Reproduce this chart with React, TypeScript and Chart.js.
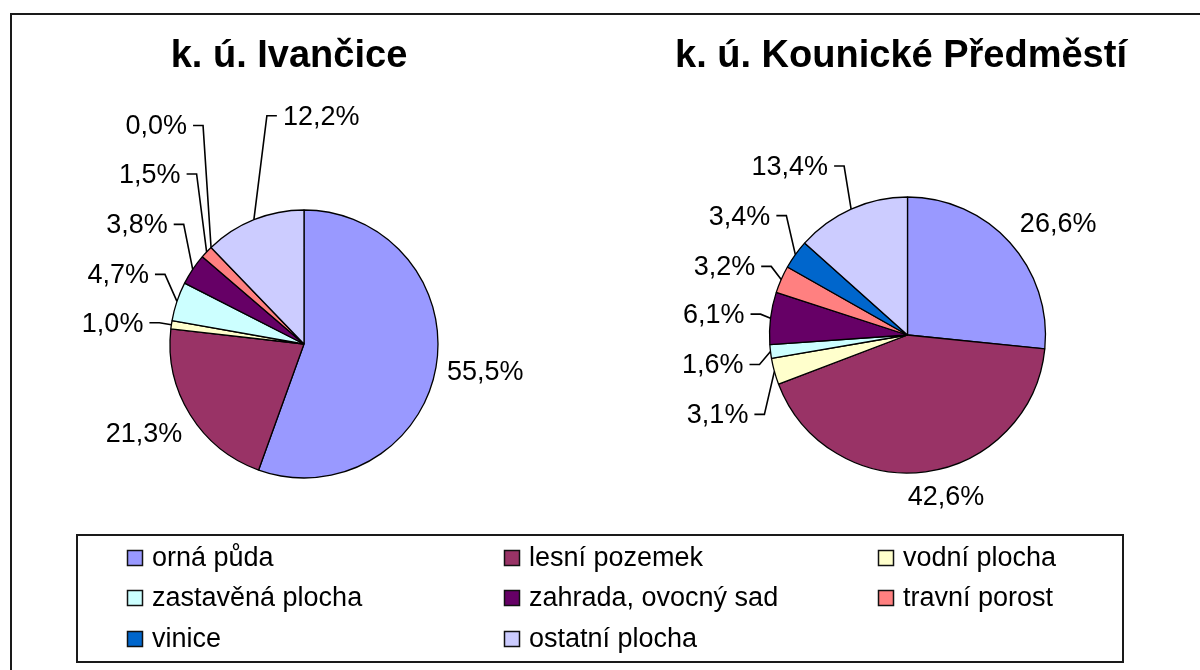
import React, { useEffect, useRef } from "react";
import { Chart, registerables } from "chart.js";

Chart.register(...registerables);

// ---------- data ----------
const categories = [
  "orná půda",
  "lesní pozemek",
  "vodní plocha",
  "zastavěná plocha",
  "zahrada, ovocný sad",
  "travní porost",
  "vinice",
  "ostatní plocha",
];
const ivanciceValues = [55.5, 21.3, 1.0, 4.7, 3.8, 1.5, 0.0, 12.2];
const kounickeValues = [26.6, 42.6, 3.1, 1.6, 6.1, 3.2, 3.4, 13.4];
const chartTitles = ["k. ú. Ivančice", "k. ú. Kounické Předměstí"];

// ---------- styles / layout ----------
const sliceColors = ["#9999FF", "#993366", "#FFFFCC", "#CCFFFF", "#660066", "#FF8080", "#0066CC", "#CCCCFF"];
const FONT = '"Liberation Sans", Arial, sans-serif';

// label placement relative to the slice's outer mid-point: [dx to text edge, dy to baseline, align, leader]
type LabelPos = [number, number, "left" | "right", boolean];
const ivanciceLabelLayout: LabelPos[] = [
  [11, 13, "left", false],
  [-8, 27, "right", false],
  [-28, 7, "right", true],
  [-28, -18, "right", true],
  [-25, -36, "right", true],
  [-26, -69, "right", true],
  [-24, -113, "right", true],
  [29, -95, "left", true],
];
const kounickeLabelLayout: LabelPos[] = [
  [10, -10, "left", false],
  [-18, 33, "left", false],
  [-26, 52, "right", true],
  [-27, 22, "right", true],
  [-26, 5, "right", true],
  [-26, -4, "right", true],
  [-25, -30, "right", true],
  [-23, -34, "right", true],
];

const fmt = (v: number) => v.toFixed(1).replace(".", ",") + "%";

function makePie(
  canvas: HTMLCanvasElement,
  values: number[],
  layout: LabelPos[],
  title: string,
  titleX: number,
  padding: { left: number; right: number; top: number; bottom: number },
  radius: number,
  withDecor: boolean
) {
  const labelPlugin = {
    id: "sliceLabels",
    afterDatasetsDraw(chart: any) {
      const ctx = chart.ctx as CanvasRenderingContext2D;
      const meta = chart.getDatasetMeta(0);
      ctx.save();
      ctx.font = `27px ${FONT}`;
      ctx.fillStyle = "#000";
      ctx.strokeStyle = "#000";
      ctx.lineWidth = 1.6;
      ctx.textBaseline = "alphabetic";
      meta.data.forEach((arc: any, i: number) => {
        const p = arc.getProps(["x", "y", "startAngle", "endAngle", "outerRadius"], true);
        const mid = (p.startAngle + p.endAngle) / 2;
        const ax = p.x + Math.cos(mid) * p.outerRadius;
        const ay = p.y + Math.sin(mid) * p.outerRadius;
        const [dx, dy, align, leader] = layout[i];
        const ex = ax + dx;
        const by = ay + dy;
        ctx.textAlign = align;
        ctx.fillText(fmt(values[i]), ex, by);
        if (leader) {
          const ly = by - 9;
          const s = align === "right" ? 1 : -1;
          const x0 = ex + s * 6;
          const x1 = ex + s * 16;
          ctx.beginPath();
          ctx.moveTo(x0, ly);
          ctx.lineTo(x1, ly);
          ctx.lineTo(ax, ay);
          ctx.stroke();
        }
      });
      ctx.restore();
    },
    afterDraw(chart: any) {
      const ctx = chart.ctx as CanvasRenderingContext2D;
      ctx.save();
      ctx.font = `bold 38px ${FONT}`;
      ctx.fillStyle = "#000";
      ctx.textAlign = "center";
      ctx.textBaseline = "alphabetic";
      ctx.fillText(title, titleX, 67);
      ctx.restore();
    },
  };

  const decorPlugin = {
    id: "decor",
    beforeDraw(chart: any) {
      const ctx = chart.ctx as CanvasRenderingContext2D;
      ctx.save();
      ctx.fillStyle = "#fff";
      ctx.fillRect(0, 0, chart.width, chart.height);
      // outer frame
      ctx.strokeStyle = "#1a1a1a";
      ctx.lineWidth = 2;
      ctx.beginPath();
      ctx.moveTo(11, 700);
      ctx.lineTo(11, 14);
      ctx.lineTo(1210, 14);
      ctx.stroke();
      // legend box
      ctx.strokeRect(77, 535, 1046, 127);
      // legend items
      const colX = [127, 504, 878];
      const rowBase = [566, 606, 647];
      ctx.font = `27px ${FONT}`;
      ctx.textAlign = "left";
      ctx.textBaseline = "alphabetic";
      categories.forEach((cat, i) => {
        const x = colX[i % 3];
        const b = rowBase[Math.floor(i / 3)];
        ctx.fillStyle = sliceColors[i];
        ctx.fillRect(x, b - 16, 16, 16);
        ctx.lineWidth = 1.5;
        ctx.strokeStyle = "#111";
        ctx.strokeRect(x + 0.5, b - 15.5, 15, 15);
        ctx.fillStyle = "#000";
        ctx.fillText(cat, x + 25, b);
      });
      ctx.restore();
    },
  };

  return new Chart(canvas, {
    type: "pie",
    data: {
      labels: categories,
      datasets: [
        {
          data: values,
          backgroundColor: sliceColors,
          borderColor: "#000",
          borderWidth: 1.3,
          radius: radius,
        } as any,
      ],
    },
    options: {
      responsive: false,
      animation: false,
      events: [],
      layout: { padding },
      plugins: {
        legend: { display: false },
        tooltip: { enabled: false },
        title: { display: false },
      },
    },
    plugins: withDecor ? [decorPlugin, labelPlugin] : [labelPlugin],
  });
}

export default function App() {
  const ref1 = useRef<HTMLCanvasElement>(null);
  const ref2 = useRef<HTMLCanvasElement>(null);

  useEffect(() => {
    const c1 = makePie(
      ref1.current!,
      ivanciceValues,
      ivanciceLabelLayout,
      chartTitles[0],
      289,
      { left: 170, right: 762, top: 210, bottom: 192 },
      134,
      true
    );
    const c2 = makePie(
      ref2.current!,
      kounickeValues,
      kounickeLabelLayout,
      chartTitles[1],
      901,
      { left: 769.5, right: 154.5, top: 197, bottom: 197 },
      138,
      false
    );
    return () => {
      c1.destroy();
      c2.destroy();
    };
  }, []);

  return (
    <div
      style={{
        position: "absolute",
        left: 0,
        top: 0,
        width: 1200,
        height: 670,
        background: "#fff",
        overflow: "hidden",
      }}
    >
      <canvas ref={ref1} width={1200} height={670} style={{ position: "absolute", left: 0, top: 0 }} />
      <canvas ref={ref2} width={1200} height={670} style={{ position: "absolute", left: 0, top: 0 }} />
    </div>
  );
}
